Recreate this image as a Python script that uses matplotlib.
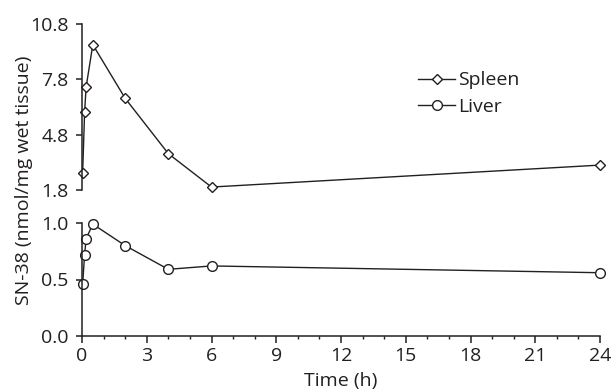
import numpy as np
import matplotlib
matplotlib.use('Agg')
import matplotlib.pyplot as plt

plt.rcParams['font.family'] = ['Open Sans', 'DejaVu Sans']

# data
time_h = [0.03, 0.12, 0.19, 0.5, 2, 4, 6, 24]
spleen = [2.74, 6.01, 7.37, 9.68, 6.77, 3.77, 1.96, 3.15]
liver = [0.46, 0.72, 0.86, 0.99, 0.80, 0.59, 0.62, 0.56]

upper_ticks = [1.8, 4.8, 7.8, 10.8]
lower_ticks = [0.0, 0.5, 1.0]
x_ticks = list(range(0, 25, 3))

ink = '#231f20'
fs = 14

fig = plt.figure(figsize=(6.16, 3.90), dpi=100)
ax_top = fig.add_axes([82 / 616, 1 - 190 / 390, 518 / 616, 166 / 390])
ax_bot = fig.add_axes([82 / 616, 1 - 336 / 390, 518 / 616, 113 / 390])

line_kw = dict(color=ink, lw=1.0, markerfacecolor='white', markeredgecolor=ink,
               markeredgewidth=1.0, clip_on=False)
ax_top.plot(time_h, spleen, marker='D', ms=5, label='Spleen', **line_kw)
ax_bot.plot(time_h, liver, marker='o', ms=7, label='Liver', **line_kw)

for ax in (ax_top, ax_bot):
    ax.set_xlim(0, 24)
    for s in ('top', 'right'):
        ax.spines[s].set_visible(False)
    ax.spines['left'].set_color(ink)
    ax.spines['left'].set_linewidth(1.1)
    ax.tick_params(axis='y', direction='out', length=4.5, width=1.1,
                   color=ink, labelcolor=ink, labelsize=fs, pad=5)
    ax.patch.set_alpha(0)

ax_top.set_ylim(1.8, 10.8)
ax_top.set_yticks(upper_ticks)
ax_top.set_yticklabels([f'{v:.1f}' for v in upper_ticks])
ax_top.spines['bottom'].set_visible(False)
ax_top.tick_params(axis='x', bottom=False, labelbottom=False)

ax_bot.set_ylim(0, 1.0)
ax_bot.set_yticks(lower_ticks)
ax_bot.set_yticklabels([f'{v:.1f}' for v in lower_ticks])
ax_bot.set_xticks(x_ticks)
ax_bot.set_xticks(range(0, 25), minor=True)
ax_bot.spines['bottom'].set_color(ink)
ax_bot.spines['bottom'].set_linewidth(1.1)
ax_bot.tick_params(axis='x', which='major', direction='out', length=5, width=1.1,
                   color=ink, labelcolor=ink, labelsize=fs, pad=3)
ax_bot.tick_params(axis='x', which='minor', direction='out', length=2.5, width=1.0,
                   color=ink)
ax_bot.set_xlabel('Time (h)', fontsize=fs, color=ink, labelpad=5)

h1, l1 = ax_top.get_legend_handles_labels()
h2, l2 = ax_bot.get_legend_handles_labels()
ax_top.legend(h1 + h2, l1 + l2, loc='upper left', bbox_to_anchor=(0.649, 0.715),
              frameon=False, fontsize=fs, handlelength=1.9, handletextpad=0.15,
              labelspacing=0.45, borderpad=0, borderaxespad=0, labelcolor=ink)

fig.text(24 / 616, 1 - 180 / 390, 'SN-38 (nmol/mg wet tissue)', rotation=90,
         ha='center', va='center', fontsize=fs, color=ink)

fig.savefig('out.png', dpi=100)
